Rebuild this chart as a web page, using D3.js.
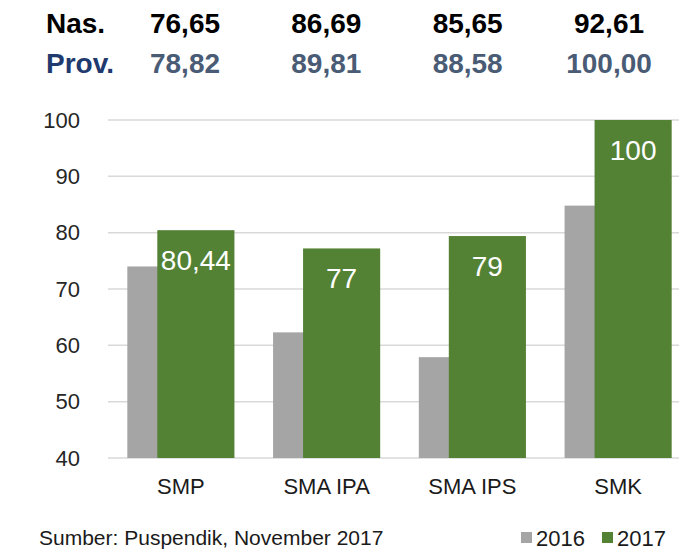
<!DOCTYPE html>
<html>
<head>
<meta charset="utf-8">
<script src="https://cdn.jsdelivr.net/npm/d3@7"></script>
<style>
  body { margin: 0; background: #fff; }
  svg { display: block; font-family: "Liberation Sans", Arial, sans-serif; }
</style>
</head>
<body>
<div id="app"></div>
<script>
// chart data
const categories = ['SMP', 'SMA IPA', 'SMA IPS', 'SMK'];
const values2016 = [74.0, 62.3, 57.9, 84.8];
const values2017 = [80.44, 77.2, 79.4, 100];
const labels2017 = ['80,44', '77', '79', '100'];
const nasional = ['76,65', '86,69', '85,65', '92,61'];
const provinsi = ['78,82', '89,81', '88,58', '100,00'];
const yTicks = [40, 50, 60, 70, 80, 90, 100];
const seriesNames = ['2016', '2017'];
const colors = {'2016': '#a5a5a5', '2017': '#548235'};

const width = 679, height = 553;

const svg = d3.select('#app')
  .append('svg')
  .attr('width', width)
  .attr('height', height);

// scales
const x = d3.scaleBand()
  .domain(categories)
  .range([108, 691])
  .paddingInner(0.265)
  .paddingOuter(0.1325);

const y = d3.scaleLinear()
  .domain([40, 100])
  .range([458, 120]);

const bw = x.bandwidth();
const barW = bw * 0.72;   // each bar, they overlap
const shift = bw - barW;  // 2017 bar offset

// gridlines
svg.append('g')
  .selectAll('line')
  .data(yTicks)
  .join('line')
  .attr('x1', 108)
  .attr('x2', width)
  .attr('y1', d => y(d))
  .attr('y2', d => y(d))
  .attr('stroke', '#d9d9d9')
  .attr('stroke-width', 1.5);

// y axis labels
const yAxis = svg.append('g')
  .attr('transform', 'translate(80,0)')
  .call(d3.axisLeft(y).tickValues(yTicks).tickSize(0).tickPadding(0));
yAxis.select('.domain').remove();
yAxis.selectAll('text')
  .attr('font-size', 22)
  .attr('font-family', '"Liberation Sans", Arial, sans-serif')
  .attr('fill', '#262626');

// 2016 bars
svg.append('g')
  .selectAll('rect')
  .data(categories)
  .join('rect')
  .attr('x', d => x(d))
  .attr('y', (d, i) => y(values2016[i]))
  .attr('width', barW)
  .attr('height', (d, i) => y(40) - y(values2016[i]))
  .attr('fill', colors['2016']);

// 2017 bars
svg.append('g')
  .selectAll('rect')
  .data(categories)
  .join('rect')
  .attr('x', d => x(d) + shift)
  .attr('y', (d, i) => y(values2017[i]))
  .attr('width', barW)
  .attr('height', (d, i) => y(40) - y(values2017[i]))
  .attr('fill', colors['2017']);

// labels inside the 2017 bars
svg.append('g')
  .selectAll('text')
  .data(categories)
  .join('text')
  .attr('x', d => x(d) + shift + barW / 2)
  .attr('y', (d, i) => y(values2017[i]) + 40)
  .attr('text-anchor', 'middle')
  .attr('font-size', 28)
  .attr('fill', '#fff')
  .text((d, i) => labels2017[i]);

// category labels
svg.append('g')
  .selectAll('text')
  .data(categories)
  .join('text')
  .attr('x', d => x(d) + bw / 2)
  .attr('y', 494)
  .attr('text-anchor', 'middle')
  .attr('font-size', 22)
  .attr('fill', '#1a1a1a')
  .text(d => d);

// header rows: national and provincial averages
const hx = d3.scalePoint().domain(categories).range([185, 609]);

svg.append('text')
  .attr('x', 46).attr('y', 33)
  .attr('font-size', 28).attr('font-weight', 'bold')
  .attr('fill', '#000')
  .text('Nas.');

svg.append('text')
  .attr('x', 46).attr('y', 73)
  .attr('font-size', 28).attr('font-weight', 'bold')
  .attr('fill', '#1f3a6e')
  .text('Prov.');

svg.append('g')
  .selectAll('text')
  .data(categories)
  .join('text')
  .attr('x', d => hx(d))
  .attr('y', 33)
  .attr('text-anchor', 'middle')
  .attr('font-size', 28).attr('font-weight', 'bold')
  .attr('fill', '#000')
  .text((d, i) => nasional[i]);

svg.append('g')
  .selectAll('text')
  .data(categories)
  .join('text')
  .attr('x', d => hx(d))
  .attr('y', 73)
  .attr('text-anchor', 'middle')
  .attr('font-size', 28).attr('font-weight', 'bold')
  .attr('fill', '#4a5b75')
  .text((d, i) => provinsi[i]);

// source note
svg.append('text')
  .attr('x', 39).attr('y', 545)
  .attr('font-size', 21)
  .attr('fill', '#1a1a1a')
  .text('Sumber: Puspendik, November 2017');

// legend
const legend = svg.append('g')
  .selectAll('g')
  .data(seriesNames)
  .join('g')
  .attr('transform', (d, i) => `translate(${521 + i * 81},532)`);

legend.append('rect')
  .attr('width', 11).attr('height', 11)
  .attr('fill', d => colors[d]);

legend.append('text')
  .attr('x', 15).attr('y', 14)
  .attr('font-size', 22)
  .attr('fill', '#1a1a1a')
  .text(d => d);
</script>
</body>
</html>
